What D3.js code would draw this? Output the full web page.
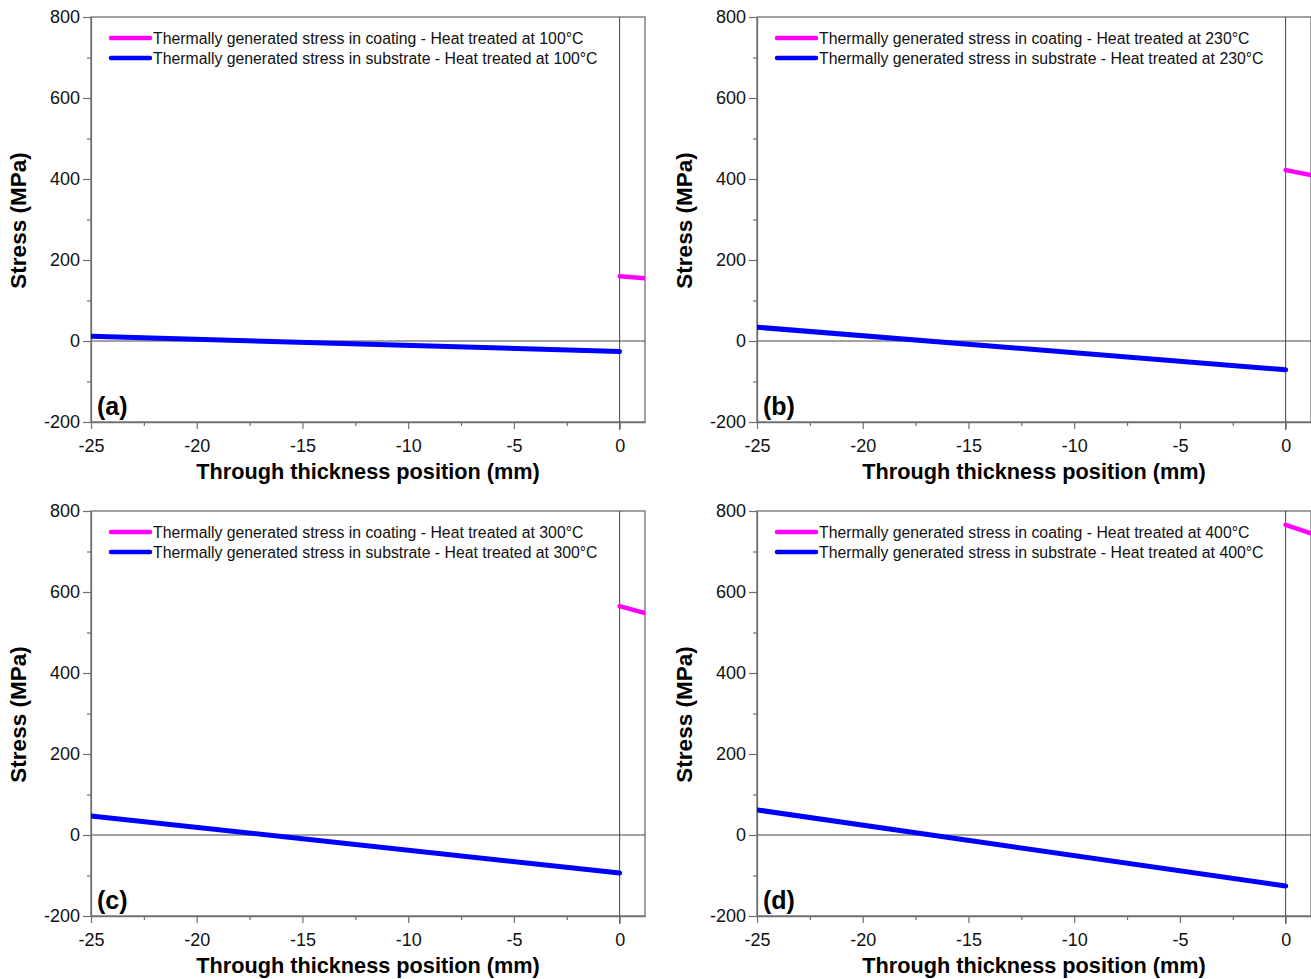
<!DOCTYPE html>
<html>
<head>
<meta charset="utf-8">
<script src="https://cdn.jsdelivr.net/npm/d3@7"></script>
<style>
  body { margin: 0; background: #fff; }
  svg { display: block; font-family: "Liberation Sans", Arial, sans-serif; }
</style>
</head>
<body>
<svg width="1311" height="979"></svg>
<script>
// Panel labels and heat treatment temperatures
let panelLabels = ['(a)', '(b)', '(c)', '(d)'];
let temps = ['100°C', '230°C', '300°C', '400°C'];

// Through thickness positions (mm)
let substrateX = [-25, 0];
let coatingX = [0, 1.2];

// Stress values (MPa)
let substrateA = [12, -26];
let substrateB = [34, -71];
let substrateC = [47, -94];
let substrateD = [62, -126];

let coatingA = [160, 155];
let coatingB = [422, 410];
let coatingC = [565, 548];
let coatingD = [766, 745];

let substrates = [substrateA, substrateB, substrateC, substrateD];
let coatings = [coatingA, coatingB, coatingC, coatingD];

// Tick values
let xTicks = [-25, -20, -15, -10, -5, 0];
let xMinor = [-22.5, -17.5, -12.5, -7.5, -2.5];
let yTicks = [-200, 0, 200, 400, 600, 800];
let yMinor = [-100, 100, 300, 500, 700];

let svg = d3.select('svg');

// panel positions (plot area top-left corners)
let origins = [[91, 17], [757, 17], [91, 511], [757, 511]];
let w = 554, h = 405;
let axisColor = '#6f6f6f';

let x = d3.scaleLinear().domain([-25, 1.2]).range([0, w]);
let y = d3.scaleLinear().domain([-200, 800]).range([h, 0]);

let line = d3.line()
  .x(d => x(d[0]))
  .y(d => y(d[1]));

origins.forEach(function(o, i) {
  let g = svg.append('g')
    .attr('transform', 'translate(' + o[0] + ',' + o[1] + ')');

  let clipId = 'clip' + i;
  g.append('clipPath').attr('id', clipId)
    .append('rect').attr('width', w).attr('height', h);

  // frame
  g.append('rect')
    .attr('width', w).attr('height', h)
    .attr('fill', 'none')
    .attr('stroke', axisColor)
    .attr('stroke-width', 1.3);

  // zero lines
  g.append('line')
    .attr('x1', 0).attr('x2', w)
    .attr('y1', y(0)).attr('y2', y(0))
    .attr('stroke', '#444').attr('stroke-width', 1);
  g.append('line')
    .attr('x1', x(0)).attr('x2', x(0))
    .attr('y1', 0).attr('y2', h + 8)
    .attr('stroke', '#444').attr('stroke-width', 1);

  // axes
  let xAxis = g.append('g')
    .attr('transform', 'translate(0,' + h + ')')
    .call(d3.axisBottom(x).tickValues(xTicks).tickSize(7).tickSizeOuter(0).tickPadding(8).tickFormat(d => String(d)));
  g.append('g')
    .attr('transform', 'translate(0,' + h + ')')
    .call(d3.axisBottom(x).tickValues(xMinor).tickSize(4).tickSizeOuter(0).tickFormat(''))
    .select('.domain').remove();

  let yAxis = g.append('g')
    .call(d3.axisLeft(y).tickValues(yTicks).tickSize(8).tickSizeOuter(0).tickPadding(3).tickFormat(d => String(d)));
  g.append('g')
    .call(d3.axisLeft(y).tickValues(yMinor).tickSize(4).tickSizeOuter(0).tickFormat(''))
    .select('.domain').remove();

  g.selectAll('.domain').attr('stroke', axisColor).attr('stroke-width', 1.3);
  g.selectAll('.tick line').attr('stroke', axisColor).attr('stroke-width', 1.2);
  g.selectAll('.tick text')
    .attr('fill', '#111')
    .style('font-size', '18px')
    .style('font-family', '"Liberation Sans", Arial, sans-serif');
  xAxis.selectAll('.tick text').attr('dy', '0.85em');

  // series
  let plot = g.append('g').attr('clip-path', 'url(#' + clipId + ')');
  plot.append('path')
    .datum(substrateX.map((v, j) => [v, substrates[i][j]]))
    .attr('d', line)
    .attr('fill', 'none')
    .attr('stroke', '#0000ff')
    .attr('stroke-width', 5)
    .attr('stroke-linecap', 'round');
  plot.append('path')
    .datum(coatingX.map((v, j) => [v, coatings[i][j]]))
    .attr('d', line)
    .attr('fill', 'none')
    .attr('stroke', '#ff00ff')
    .attr('stroke-width', 4.5)
    .attr('stroke-linecap', 'round');

  // legend
  let legend = [
    ['#ff00ff', 'Thermally generated stress in coating - Heat treated at ' + temps[i]],
    ['#0000ff', 'Thermally generated stress in substrate - Heat treated at ' + temps[i]]
  ];
  legend.forEach(function(l, k) {
    let ly = 21 + k * 20;
    g.append('line')
      .attr('x1', 20).attr('x2', 59)
      .attr('y1', ly).attr('y2', ly)
      .attr('stroke', l[0]).attr('stroke-width', 4.5)
      .attr('stroke-linecap', 'round');
    g.append('text')
      .attr('x', 62).attr('y', ly + 5.5)
      .attr('fill', '#111')
      .style('font-size', '15.8px')
      .text(l[1]);
  });

  // panel letter
  g.append('text')
    .attr('x', 6).attr('y', h - 7)
    .style('font-size', '25px')
    .style('font-weight', 'bold')
    .text(panelLabels[i]);

  // axis titles
  g.append('text')
    .attr('x', w / 2).attr('y', h + 57)
    .attr('text-anchor', 'middle')
    .style('font-size', '21.7px')
    .style('font-weight', 'bold')
    .text('Through thickness position (mm)');
  g.append('text')
    .attr('transform', 'translate(-65,' + (h / 2 + 1) + ') rotate(-90)')
    .attr('text-anchor', 'middle')
    .style('font-size', '22.5px')
    .style('font-weight', 'bold')
    .text('Stress (MPa)');
});
</script>
</body>
</html>
